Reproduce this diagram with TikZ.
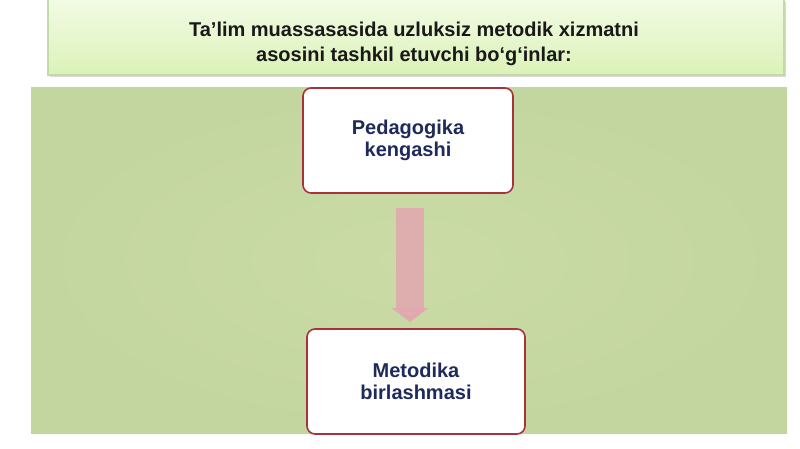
\documentclass[tikz,border=0pt]{standalone}
\usepackage{fontspec}
\setmainfont{Liberation Sans}
\usetikzlibrary{arrows.meta,calc}
\definecolor{bantop}{HTML}{F2FBE4}
\definecolor{banbot}{HTML}{DCF2B8}
\definecolor{banline}{HTML}{C4D9A8}
\definecolor{panelin}{HTML}{CADBA6}
\definecolor{panelout}{HTML}{C4D69F}
\definecolor{boxline}{HTML}{A8323C}
\definecolor{boxtext}{HTML}{1F2A5C}
\definecolor{arrpink}{HTML}{E2A6B0}
\tikzset{
  stagebox/.style={draw=boxline, line width=0.8pt, fill=white, rounded corners=4pt,
    align=center, text=boxtext, font=\fontsize{10}{11}\selectfont\bfseries, inner sep=0pt},
  flowarrow/.style={draw=arrpink, line width=14pt, opacity=0.85,
    -{Triangle[width=18pt,length=7pt]}},
}
\begin{document}
\begin{tikzpicture}[x=0.5pt,y=-0.5pt]
\useasboundingbox (0,0) rectangle (800,449);
\fill[white] (0,0) rectangle (800,449);
% banner
\fill[black!15] (50,2) rectangle (786,77);
\shade[top color=bantop, bottom color=banbot] (48,0) rectangle (784,75);
\draw[banline, line width=0.6pt] (48,-2) -- (48,75) -- (784,75) -- (784,-2);
\node[font=\fontsize{10}{12.5}\selectfont\bfseries, text=black!90, align=center] (title) at (414,44)
  {Ta’lim muassasasida uzluksiz metodik xizmatni\\asosini tashkil etuvchi bo‘g‘inlar:};
% panel
\shade[inner color=panelin, outer color=panelout] (31,88) rectangle (787,434);
% nodes
\node[stagebox, minimum width=105pt, minimum height=52.5pt] (p) at (408,140.5) {Pedagogika\\kengashi};
\node[stagebox, minimum width=109pt, minimum height=52.5pt] (m) at (416,381.5) {Metodika\\birlashmasi};
% arrow
\draw[flowarrow] ([xshift=1pt,yshift=-7pt]p.south) -- ([xshift=-3pt,yshift=3pt]m.north);
\end{tikzpicture}
\end{document}
